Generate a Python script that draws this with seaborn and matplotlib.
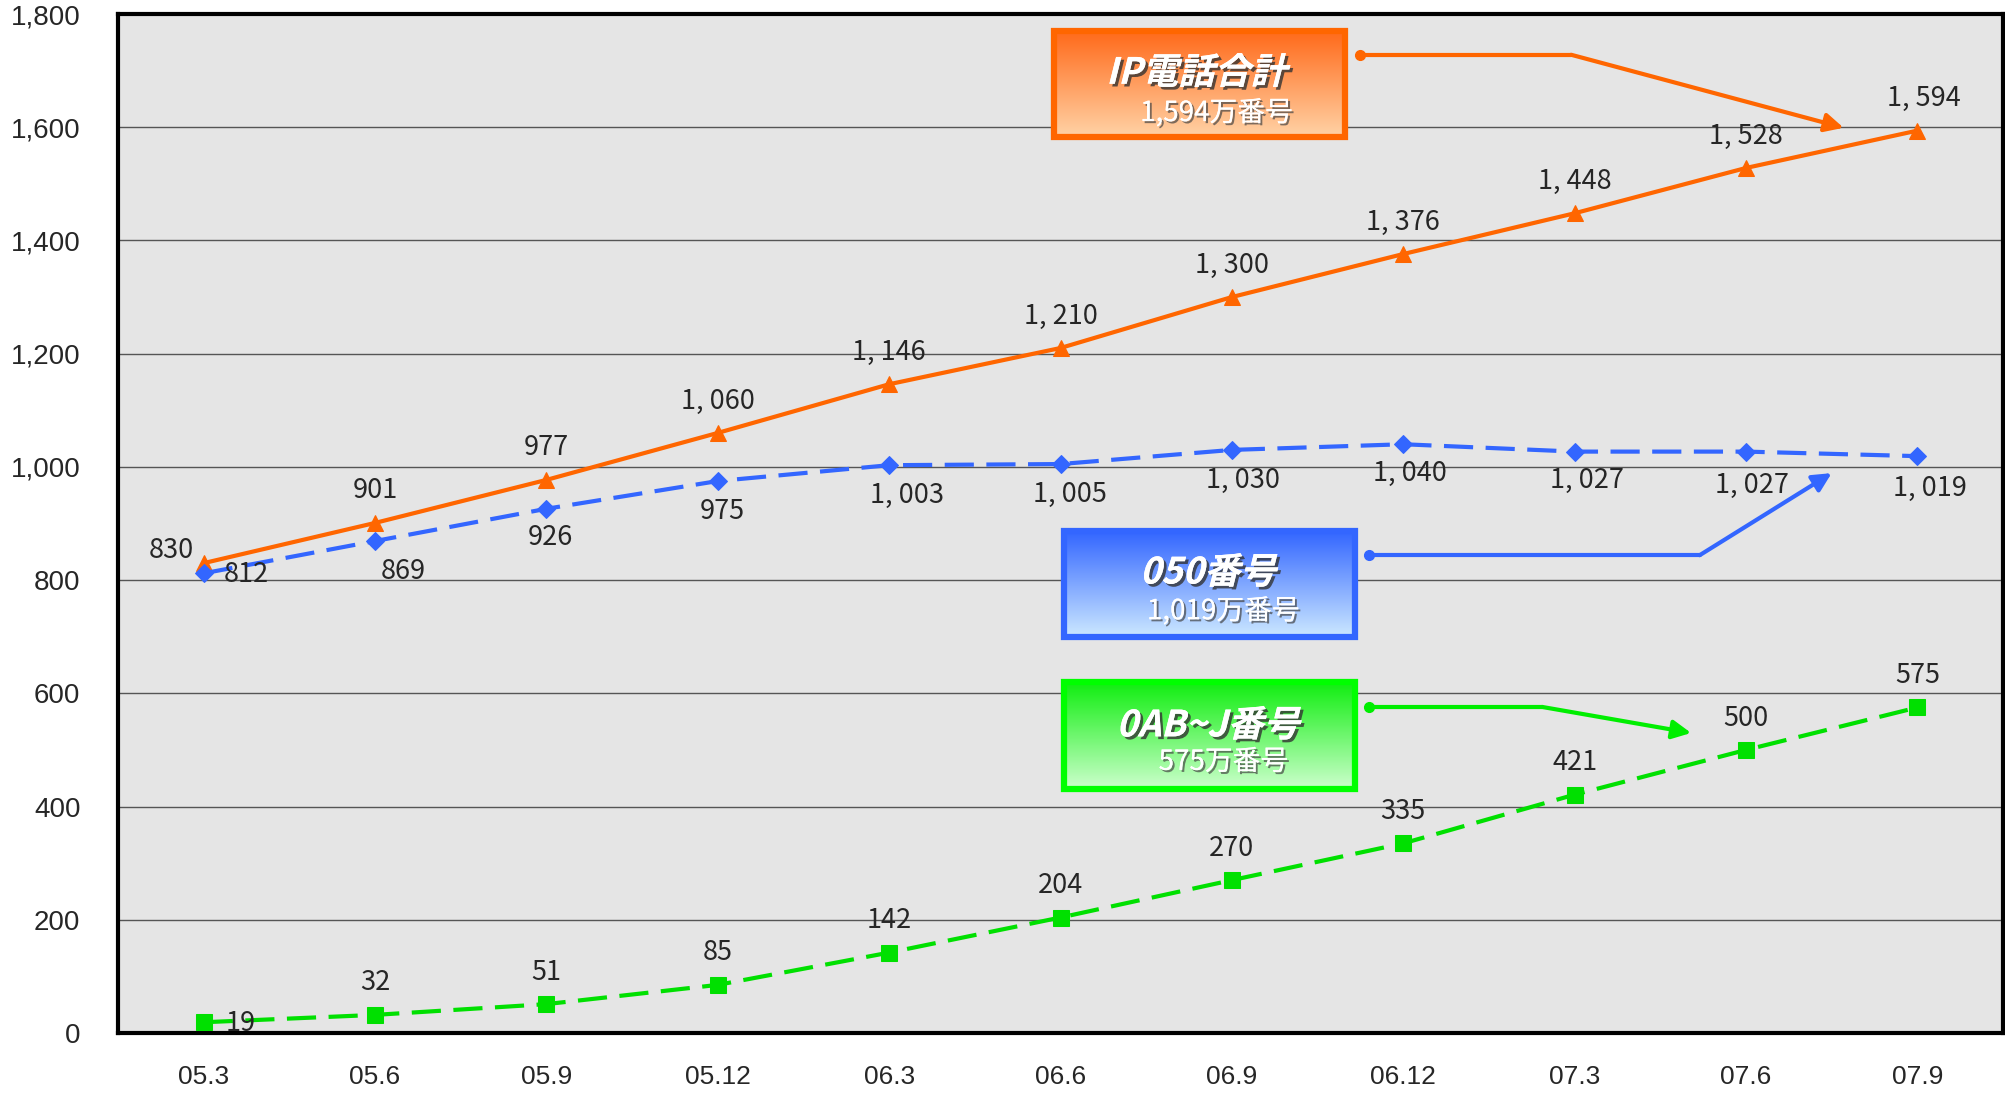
import numpy as np
import pandas as pd
import matplotlib
matplotlib.use("Agg")
import matplotlib.pyplot as plt
import matplotlib.patheffects as pe
from matplotlib.patches import Rectangle, PathPatch
from matplotlib.textpath import TextPath
from matplotlib.font_manager import FontProperties
from matplotlib import transforms
import seaborn as sns

# ---- data ----
categories = ["05.3", "05.6", "05.9", "05.12", "06.3", "06.6", "06.9", "06.12", "07.3", "07.6", "07.9"]
ip_total = [830, 901, 977, 1060, 1146, 1210, 1300, 1376, 1448, 1528, 1594]
num_050 = [812, 869, 926, 975, 1003, 1005, 1030, 1040, 1027, 1027, 1019]
num_0abj = [19, 32, 51, 85, 142, 204, 270, 335, 421, 500, 575]
y_ticks = [0, 200, 400, 600, 800, 1000, 1200, 1400, 1600, 1800]

box_titles = ["IP電話合計", "050番号", "0AB~J番号"]
box_subtitles = ["1,594万番号", "1,019万番号", "575万番号"]

# ---- style ----
sns.set_theme(style="white")
plt.rcParams['font.family'] = ['Liberation Sans', 'Noto Sans CJK JP', 'DejaVu Sans']
JP = ['Noto Sans CJK JP', 'DejaVu Sans']

DPI = 100
fig = plt.figure(figsize=(20.06, 11.02), dpi=DPI)
ax = fig.add_axes([118 / 2006, 1 - 1033 / 1102, (2003 - 118) / 2006, (1033 - 14) / 1102])
ax.set_facecolor("#e5e5e5")

x = np.arange(len(categories))
df = pd.DataFrame({"x": x, "ip": ip_total, "n050": num_050, "n0abj": num_0abj})

ORANGE = "#FF6600"
BLUE = "#3366FF"
GREEN = "#00E000"

sns.lineplot(data=df, x="x", y="ip", ax=ax, color=ORANGE, marker="^", markersize=12,
             markeredgecolor=ORANGE, linewidth=3, zorder=5)
sns.lineplot(data=df, x="x", y="n050", ax=ax, color=BLUE, marker="D", markersize=9,
             markeredgecolor=BLUE, linewidth=3, linestyle=(0, (7, 3)), zorder=5)
sns.lineplot(data=df, x="x", y="n0abj", ax=ax, color=GREEN, marker="s", markersize=11,
             markeredgecolor=GREEN, linewidth=3, linestyle=(0, (7, 3)), zorder=5)

ax.set_xlim(-0.5, len(categories) - 0.5)
ax.set_ylim(0, 1800)
ax.set_yticks(y_ticks)
ax.set_yticklabels([f"{v:,}" for v in y_ticks], fontsize=20)
ax.set_xticks(x)
ax.set_xticklabels(categories, fontsize=19)
ax.set_xlabel("")
ax.set_ylabel("")
ax.tick_params(axis="y", length=0, pad=27)
ax.tick_params(axis="x", length=0, pad=23)
# category boundary ticks
ax.set_xticks(np.arange(0.5, len(categories) - 1, 1), minor=True)
ax.tick_params(axis="x", which="minor", direction="in", length=10, width=1, color="#555555")
ax.yaxis.grid(True, color="#555555", linewidth=1)
ax.xaxis.grid(False)
for s in ax.spines.values():
    s.set_color("black")
    s.set_linewidth(3)
ax.set_axisbelow(True)

def fmt(v):
    return f"{v:,}".replace(",", ", ")

# data labels
ip_off = [(-23, 9)] + [(0, 23)] * 9 + [(5, 23)]
b_off = [(31, -1), (20, -22), (3, -21), (3, -22), (13, -22), (7, -22), (8, -22), (5, -21), (9, -21), (4, -24), (9, -23)]
g_off = [(27, -1)] + [(0, 23)] * 10
LBL = 19.5
for i in range(len(categories)):
    ax.annotate(fmt(ip_total[i]), (x[i], ip_total[i]), xytext=ip_off[i], textcoords="offset points",
                ha="center", va="center", fontsize=LBL, family=JP, zorder=6)
    ax.annotate(fmt(num_050[i]), (x[i], num_050[i]), xytext=b_off[i], textcoords="offset points",
                ha="center", va="center", fontsize=LBL, family=JP, zorder=6)
    ax.annotate(fmt(num_0abj[i]), (x[i], num_0abj[i]), xytext=g_off[i], textcoords="offset points",
                ha="center", va="center", fontsize=LBL, family=JP, zorder=6)

# ---- callout boxes ----
def gradient_box(x0, x1, y0, y1, top, bottom, edge):
    c_top = np.array(matplotlib.colors.to_rgb(top))
    c_bot = np.array(matplotlib.colors.to_rgb(bottom))
    t = np.linspace(0, 1, 100)[:, None]
    img = (c_top[None, :] * (1 - t) + c_bot[None, :] * t)[:, None, :]
    ax.imshow(img, extent=(x0, x1, y0, y1), origin="upper", aspect="auto", zorder=3)
    ax.add_patch(Rectangle((x0, y0), x1 - x0, y1 - y0, fill=False, edgecolor=edge, linewidth=4.5, zorder=4))

shadow = [pe.withSimplePatchShadow(offset=(2, -2), shadow_rgbFace="#333333", alpha=0.8), pe.Normal()]
shadow_thin = [pe.withSimplePatchShadow(offset=(1.5, -1.5), shadow_rgbFace="#444444", alpha=0.7), pe.Normal()]

def slanted_text(s, xd, yd, size, weight="bold"):
    fp = FontProperties(family='Noto Sans CJK JP', weight=weight)
    tp = TextPath((0, 0), s, size=size, prop=fp)
    ext = tp.get_extents()
    cx = (ext.x0 + ext.x1) / 2
    cy = (ext.y0 + ext.y1) / 2
    tr = (transforms.Affine2D().translate(-cx, -cy).skew_deg(14, 0).scale(DPI / 72)
          + transforms.ScaledTranslation(xd, yd, ax.transData))
    patch = PathPatch(tp, facecolor="white", edgecolor="none", transform=tr, zorder=7)
    patch.set_path_effects(shadow)
    ax.add_patch(patch)

boxes = [
    dict(x0=4.96, x1=6.66, y0=1583, y1=1770, top="#FF6A1A", bottom="#FFD2A6", edge=ORANGE,
         tx=5.82, ty=1701, sx=5.91, sy=1625, line=[(6.75, 1728), (7.98, 1728)], arrow=(9.57, 1599), lc=ORANGE),
    dict(x0=5.02, x1=6.72, y0=700, y1=887, top="#3366FF", bottom="#CCE8FF", edge=BLUE,
         tx=5.88, ty=818, sx=5.95, sy=745, line=[(6.80, 844), (8.73, 844)], arrow=(9.50, 989), lc=BLUE),
    dict(x0=5.02, x1=6.72, y0=431, y1=620, top="#11EE11", bottom="#CCFFCC", edge="#00FF00",
         tx=5.88, ty=548, sx=5.95, sy=479, line=[(6.80, 576), (7.81, 576)], arrow=(8.68, 530), lc="#00EE00"),
]

for b, title, sub in zip(boxes, box_titles, box_subtitles):
    gradient_box(b["x0"], b["x1"], b["y0"], b["y1"], b["top"], b["bottom"], b["edge"])
    slanted_text(title, b["tx"], b["ty"], 26)
    ax.text(b["sx"], b["sy"], sub, ha="center", va="center", fontsize=20, color="white",
            family=JP, zorder=7, path_effects=shadow_thin)
    (p0, p1) = b["line"]
    ax.plot([p0[0], p1[0]], [p0[1], p1[1]], color=b["lc"], linewidth=3, zorder=6)
    ax.plot([p0[0]], [p0[1]], marker="o", markersize=7, color=b["lc"], zorder=6)
    ax.annotate("", xy=b["arrow"], xytext=p1,
                arrowprops=dict(arrowstyle="-|>", color=b["lc"], lw=3, mutation_scale=28,
                                shrinkA=0, shrinkB=0), zorder=6)

ax.set_xlim(-0.5, len(categories) - 0.5)
ax.set_ylim(0, 1800)
fig.savefig("out.png", dpi=DPI, facecolor="white")
